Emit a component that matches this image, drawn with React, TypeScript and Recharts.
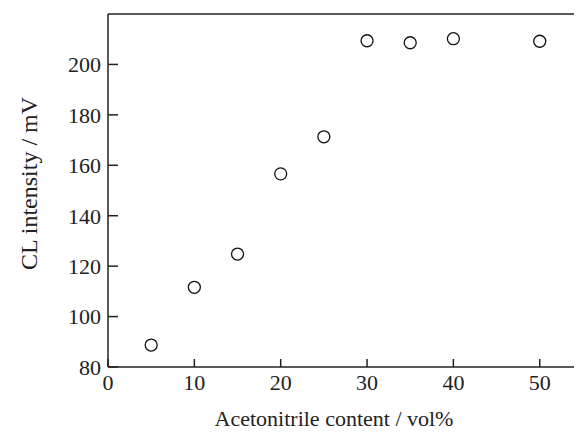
import React from "react";
import { ScatterChart, Scatter, XAxis, YAxis, ReferenceLine, Label } from "recharts";

const acetonitrile = [5, 10, 15, 20, 25, 30, 35, 40, 50];
const intensity = [88.7, 111.6, 124.8, 156.6, 171.3, 209.4, 208.6, 210.2, 209.2];
const xTicks = [0, 10, 20, 30, 40, 50];
const yTicks = [80, 100, 120, 140, 160, 180, 200];

const data = acetonitrile.map((x, i) => ({ x, y: intensity[i] }));

const FONT = "'Liberation Serif', 'Times New Roman', serif";
const INK = "#222";

const Marker = (props: any) => (
  <circle cx={props.cx} cy={props.cy} r={6} fill="#fff" stroke="#111" strokeWidth={1.3} />
);

export default function App() {
  return (
    <div style={{ fontFamily: FONT, fontSize: "22px", width: 574, height: 430 }}>
      <ScatterChart
        width={574}
        height={430}
        margin={{ top: 6, right: 6, left: 0, bottom: 0 }}
        style={{ fontFamily: FONT, fontSize: "22px" }}
      >
        <XAxis
          type="number"
          dataKey="x"
          domain={[0, 54.2]}
          ticks={xTicks}
          allowDataOverflow
          height={71}
          tickSize={-8}
          tickMargin={15}
          stroke={INK}
          strokeWidth={1.5}
          tick={{ fill: INK, fontSize: 22, fontFamily: FONT, stroke: "none" }}
        >
          <Label
            value="Acetonitrile content / vol%"
            position="center"
            dx={-8}
            dy={16}
            style={{ fill: INK, fontSize: 22, fontFamily: FONT }}
          />
        </XAxis>
        <YAxis
          type="number"
          dataKey="y"
          domain={[80, 220]}
          ticks={yTicks}
          allowDataOverflow
          width={100}
          tickSize={-10}
          tickMargin={17}
          stroke={INK}
          strokeWidth={1.5}
          tick={{ fill: INK, fontSize: 22, fontFamily: FONT, stroke: "none" }}
        >
          <Label
            value="CL intensity / mV"
            angle={-90}
            position="center"
            dx={-30}
            dy={-7}
            style={{ fill: INK, fontSize: 24, fontFamily: FONT, textAnchor: "middle" }}
          />
        </YAxis>
        <ReferenceLine y={220} stroke={INK} strokeWidth={1.5} />
        <ReferenceLine x={54.2} stroke={INK} strokeWidth={1.2} />
        <Scatter data={data} shape={Marker} isAnimationActive={false} />
      </ScatterChart>
    </div>
  );
}
